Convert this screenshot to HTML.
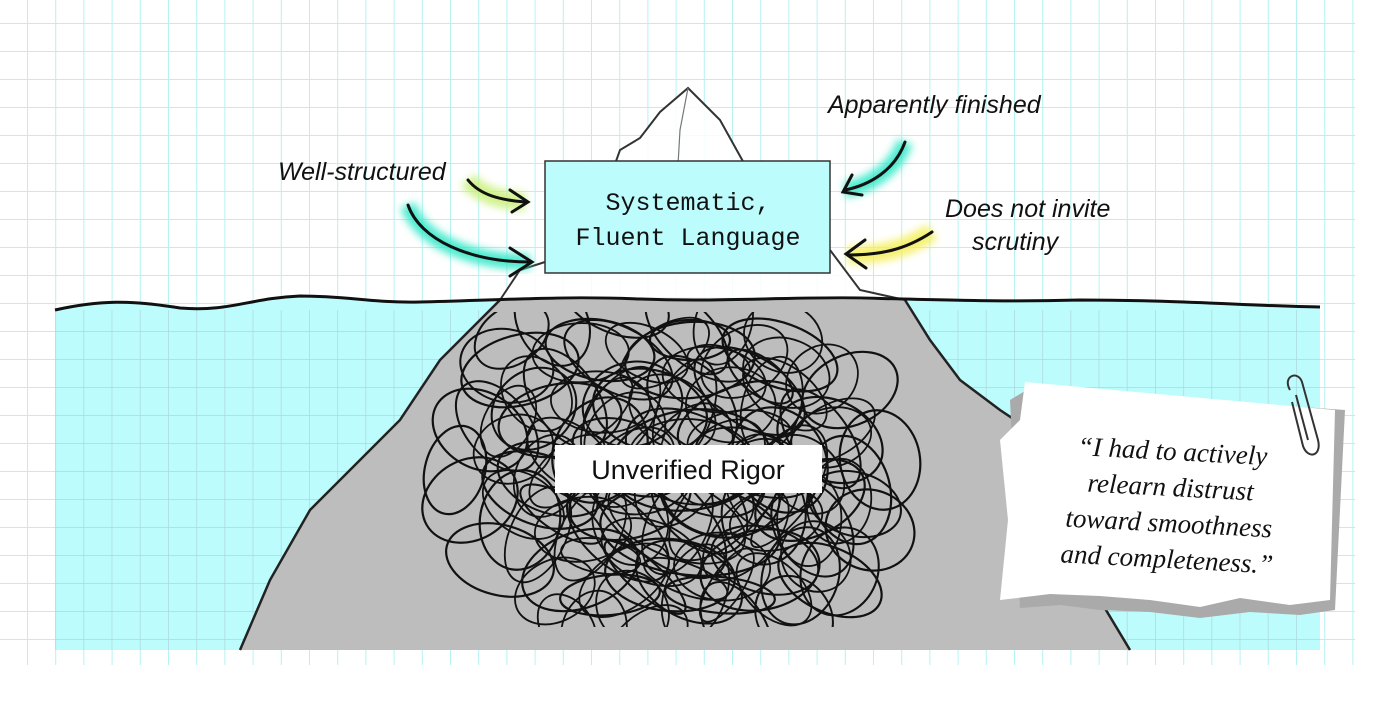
<!DOCTYPE html>
<html><head><meta charset="utf-8"><style>
body{margin:0;width:1375px;height:728px;background:#fff;overflow:hidden;position:relative}
svg{position:absolute;left:0;top:0}
.hand{font-family:"Liberation Sans",sans-serif;font-style:italic;font-size:25px;fill:#111}
</style></head><body>
<svg width="1375" height="728" viewBox="0 0 1375 728">
<defs>
<pattern id="g" x="27" y="23" width="28.2" height="28" patternUnits="userSpaceOnUse">
<path d="M0 0V28M0 0H28.2" stroke="#b5f2f2" stroke-width="2" fill="none"/>
</pattern>
<pattern id="g2" x="27" y="23" width="28.2" height="28" patternUnits="userSpaceOnUse">
<path d="M0 0V28M0 0H28.2" stroke="#a8c8d0" stroke-width="1.5" fill="none"/>
</pattern>
<clipPath id="cl"><rect x="400" y="312" width="535" height="315"/></clipPath>
<filter id="blur"><feGaussianBlur stdDeviation="4"/></filter>
<g id="sc">
<ellipse cx="520" cy="370" rx="60" ry="35" transform="rotate(-15 520 370)"/>
<ellipse cx="600" cy="350" rx="55" ry="30" transform="rotate(10 600 350)"/>
<ellipse cx="690" cy="360" rx="65" ry="38" transform="rotate(-5 690 360)"/>
<ellipse cx="780" cy="355" rx="60" ry="32" transform="rotate(20 780 355)"/>
<ellipse cx="850" cy="390" rx="50" ry="35" transform="rotate(-25 850 390)"/>
<ellipse cx="480" cy="430" rx="50" ry="38" transform="rotate(30 480 430)"/>
<ellipse cx="560" cy="420" rx="62" ry="36" transform="rotate(-10 560 420)"/>
<ellipse cx="650" cy="410" rx="58" ry="40" transform="rotate(15 650 410)"/>
<ellipse cx="740" cy="420" rx="65" ry="34" transform="rotate(-20 740 420)"/>
<ellipse cx="830" cy="440" rx="55" ry="40" transform="rotate(25 830 440)"/>
<ellipse cx="880" cy="460" rx="40" ry="50" transform="rotate(-10 880 460)"/>
<ellipse cx="470" cy="500" rx="50" ry="40" transform="rotate(-30 470 500)"/>
<ellipse cx="540" cy="490" rx="60" ry="35" transform="rotate(20 540 490)"/>
<ellipse cx="630" cy="500" rx="62" ry="38" transform="rotate(-15 630 500)"/>
<ellipse cx="720" cy="495" rx="60" ry="42" transform="rotate(10 720 495)"/>
<ellipse cx="810" cy="500" rx="58" ry="36" transform="rotate(-25 810 500)"/>
<ellipse cx="870" cy="530" rx="45" ry="40" transform="rotate(20 870 530)"/>
<ellipse cx="500" cy="560" rx="55" ry="35" transform="rotate(15 500 560)"/>
<ellipse cx="580" cy="570" rx="60" ry="38" transform="rotate(-20 580 570)"/>
<ellipse cx="670" cy="575" rx="65" ry="36" transform="rotate(5 670 575)"/>
<ellipse cx="760" cy="570" rx="60" ry="40" transform="rotate(-10 760 570)"/>
<ellipse cx="830" cy="580" rx="55" ry="32" transform="rotate(25 830 580)"/>
<ellipse cx="610" cy="595" rx="50" ry="20" transform="rotate(-5 610 595)"/>
<ellipse cx="720" cy="595" rx="55" ry="18" transform="rotate(5 720 595)"/>
<ellipse cx="690" cy="460" rx="80" ry="50" transform="rotate(-8 690 460)"/>
<ellipse cx="600" cy="450" rx="45" ry="55" transform="rotate(30 600 450)"/>
<ellipse cx="780" cy="460" rx="45" ry="55" transform="rotate(-30 780 460)"/>
<ellipse cx="690" cy="530" rx="90" ry="45" transform="rotate(6 690 530)"/>
<ellipse cx="520" cy="520" rx="40" ry="50" transform="rotate(10 520 520)"/>
<ellipse cx="850" cy="490" rx="40" ry="55" transform="rotate(-15 850 490)"/>
<ellipse cx="690" cy="340" rx="40" ry="20"/>
<ellipse cx="455" cy="470" rx="30" ry="45" transform="rotate(15 455 470)"/>
</g>
</defs>
<rect x="0" y="0" width="1355" height="665" fill="url(#g)"/>
<!-- water -->
<path d="M55 310 C100 300 130 300 180 308 C230 312 250 298 300 296 C350 296 370 303 420 302 C500 300 560 296 640 299 C720 302 780 297 860 298 C950 300 1000 302 1080 300 C1180 300 1250 306 1320 307 L1320 650 L55 650 Z" fill="#bdfcfc"/>
<rect x="55" y="310" width="1265" height="340" fill="url(#g2)" opacity="0.7"/>
<!-- iceberg underwater -->
<path d="M500 300 C560 296 700 296 905 300 L930 340 L960 380 L1000 410 L1030 430 L1100 600 L1130 650 L240 650 L270 580 L310 510 L350 470 L400 420 L440 360 L470 330 Z" fill="#bdbdbd"/>
<path d="M500 300 L470 330 L440 360 L400 420 L350 470 L310 510 L270 580 L240 650" stroke="#222" stroke-width="2.5" fill="none"/>
<path d="M905 300 L930 340 L960 380 L1000 410 L1030 430 L1100 600 L1130 650" stroke="#222" stroke-width="2.5" fill="none"/>
<!-- iceberg above -->
<path d="M500 300 L520 270 L545 262 L545 215 L610 178 L620 150 L640 138 L660 112 L688 88 L720 120 L745 165 L780 175 L830 190 L830 250 L860 290 L905 300 Z" fill="#fff" opacity="0.85"/>
<path d="M500 300 L520 270 L545 262 M545 215 L610 178 L620 150 L640 138 L660 112 L688 88 L720 120 L745 165 L780 175 L830 190 M830 250 L860 290 L905 300" stroke="#333" stroke-width="2" fill="none"/>
<path d="M688 88 L680 130 L678 165" stroke="#777" stroke-width="1.2" fill="none"/>
<!-- waterline -->
<path d="M55 310 C100 300 130 300 180 308 C230 312 250 298 300 296 C350 296 370 303 420 302 C500 300 560 296 640 299 C720 302 780 297 860 298 C950 300 1000 302 1080 300 C1180 300 1250 306 1320 307" stroke="#111" stroke-width="3" fill="none"/>
<!-- scribble -->
<g stroke="#111" stroke-width="2.2" fill="none" clip-path="url(#cl)">
<use href="#sc"/>
<use href="#sc" transform="translate(690 470) rotate(37) scale(0.95 0.9) translate(-690 -470)"/>
<use href="#sc" transform="translate(690 470) rotate(-52) scale(0.85 0.8) translate(-690 -470)"/>
<use href="#sc" transform="translate(690 470) rotate(15) scale(0.8 0.85) translate(-690 -470)"/>
</g>
<rect x="555" y="445" width="267" height="48" fill="#fff"/>
<text x="688" y="479" text-anchor="middle" font-family="Liberation Sans,sans-serif" font-size="27" fill="#111">Unverified Rigor</text>
<!-- box -->
<rect x="545" y="161" width="285" height="112" fill="#bdfcfc" stroke="#333" stroke-width="1.5"/>
<text x="688" y="210" text-anchor="middle" font-family="Liberation Mono,monospace" font-size="25" fill="#111">Systematic,</text>
<text x="688" y="245" text-anchor="middle" font-family="Liberation Mono,monospace" font-size="25" fill="#111">Fluent Language</text>
<!-- highlights -->
<g filter="url(#blur)" opacity="0.85">
<path d="M468 180 C480 195 500 200 525 202" stroke="#c8f07a" stroke-width="18" fill="none"/>
<path d="M408 205 C420 240 470 262 530 262" stroke="#2de8c8" stroke-width="16" fill="none"/>
<path d="M905 142 C895 170 870 185 845 190" stroke="#2de8c8" stroke-width="16" fill="none"/>
<path d="M932 232 C905 250 880 255 848 255" stroke="#f4f05a" stroke-width="18" fill="none"/>
</g>
<g stroke="#111" stroke-width="3" fill="none" stroke-linecap="round">
<path d="M468 180 C480 195 500 200 525 202"/><path d="M510 190 L528 202 L512 212"/>
<path d="M408 205 C420 240 470 262 530 262"/><path d="M510 248 L532 262 L510 276"/>
<path d="M905 142 C895 170 870 185 845 190"/><path d="M852 175 L843 192 L862 195"/>
<path d="M932 232 C905 250 880 255 848 255"/><path d="M865 240 L846 254 L866 268"/>
</g>
<text x="278" y="180" class="hand">Well-structured</text>
<text x="828" y="113" class="hand">Apparently finished</text>
<text x="945" y="217" class="hand">Does not invite</text>
<text x="972" y="250" class="hand">scrutiny</text>
<!-- note -->
<path d="M1030 388 L1345 410 L1335 610 L1300 615 L1250 612 L1200 618 L1150 612 L1100 610 L1060 605 L1020 608 L1010 400 Z" fill="#aaa"/>
<path d="M1025 382 L1335 410 L1330 600 L1290 605 L1240 598 L1200 607 L1150 600 L1100 596 L1050 594 L1000 600 L1008 520 L1000 440 L1020 420 Z" fill="#fff"/>
<g font-family="Liberation Serif,serif" font-style="italic" font-size="27" fill="#111" text-anchor="middle" transform="rotate(3 1170 500)">
<text x="1170" y="460">“I had to actively</text>
<text x="1170" y="496">relearn distrust</text>
<text x="1170" y="532">toward smoothness</text>
<text x="1170" y="568">and completeness.”</text>
</g>
<g stroke="#333" stroke-width="2" fill="none">
<path d="M1290 390 C1282 376 1298 370 1302 382 L1318 440 C1322 456 1308 460 1303 446 L1292 402"/>
<path d="M1296 395 L1308 440"/>
</g>
</svg>
</body></html>
